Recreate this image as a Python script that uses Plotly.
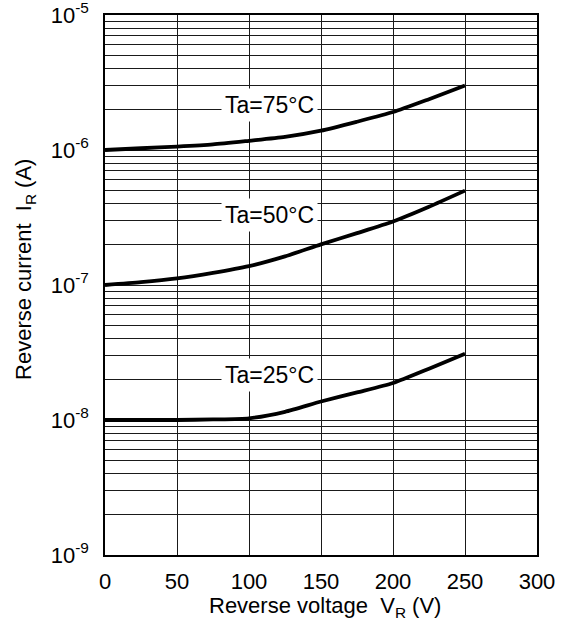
import math
import plotly.graph_objects as go

# ---- data ----
voltage_v = [0, 25, 50, 75, 100, 125, 150, 175, 200, 225, 250]
ir_75c = [1.0e-6, 1.03e-6, 1.06e-6, 1.10e-6, 1.17e-6, 1.25e-6, 1.39e-6, 1.62e-6, 1.91e-6, 2.38e-6, 3.0e-6]
ir_50c = [1.0e-7, 1.05e-7, 1.12e-7, 1.23e-7, 1.38e-7, 1.63e-7, 2.0e-7, 2.42e-7, 2.95e-7, 3.8e-7, 5.0e-7]
ir_25c = [1.0e-8, 1.0e-8, 1.0e-8, 1.01e-8, 1.03e-8, 1.15e-8, 1.37e-8, 1.6e-8, 1.88e-8, 2.4e-8, 3.1e-8]

series_names = ["Ta=75°C", "Ta=50°C", "Ta=25°C"]
label_v = [114, 114, 114]
label_i = [2.15e-6, 3.3e-7, 2.15e-8]

x_ticks = [0, 50, 100, 150, 200, 250, 300]
y_ticks = [1e-9, 1e-8, 1e-7, 1e-6, 1e-5]
y_ticktext = ["10<sup>-9</sup>", "10<sup>-8</sup>", "10<sup>-7</sup>", "10<sup>-6</sup>", "10<sup>-5</sup>"]
minor_mult = [2, 3, 4, 5, 6, 7, 8, 9]

x_title = "Reverse voltage  V<sub>R</sub> (V)"
y_title = "Reverse current  I<sub>R</sub> (A)"

FONT = "Liberation Sans, Arial, Helvetica, sans-serif"

fig = go.Figure()
for name, ys in zip(series_names, [ir_75c, ir_50c, ir_25c]):
    fig.add_trace(go.Scatter(x=voltage_v, y=ys, mode="lines", name=name,
                             line=dict(color="black", width=3.8, shape="spline", smoothing=0.6),
                             showlegend=False, hoverinfo="skip"))

for name, xv, yv in zip(series_names, label_v, label_i):
    fig.add_annotation(x=xv, y=math.log10(yv), yref="y", xref="x", text=name, showarrow=False,
                       font=dict(family=FONT, size=23, color="black"),
                       bgcolor="white", borderpad=3)

# axis titles
fig.add_annotation(xref="paper", yref="paper", x=0.51, y=-0.096, text=x_title, showarrow=False,
                   font=dict(family=FONT, size=22, color="black"), xanchor="center", yanchor="middle")
fig.add_annotation(xref="paper", yref="paper", x=-0.185, y=0.528, text=y_title, showarrow=False,
                   textangle=-90, font=dict(family=FONT, size=22, color="black"),
                   xanchor="center", yanchor="middle")

minor_vals = [m * d for d in y_ticks[:-1] for m in minor_mult]

fig.update_layout(
    width=566, height=628,
    margin=dict(l=105, r=29, t=15, b=73),
    paper_bgcolor="white", plot_bgcolor="white",
    font=dict(family=FONT, size=21, color="black"),
    xaxis=dict(range=[0, 300], tickvals=x_ticks, showgrid=True, gridcolor="#1a1a1a", gridwidth=1,
               showline=True, linecolor="black", linewidth=1.5, mirror=True,
               ticks="outside", ticklen=6, tickcolor="rgba(0,0,0,0)",
               tickfont=dict(size=22), zeroline=False, automargin=False,
               ticklabeloverflow="allow"),
    yaxis=dict(type="log", range=[-9, -5], tickvals=y_ticks, ticktext=y_ticktext,
               showgrid=True, gridcolor="#1a1a1a", gridwidth=1,
               minor=dict(tickvals=minor_vals, showgrid=True, gridcolor="#1a1a1a", gridwidth=1, ticks=""),
               showline=True, linecolor="black", linewidth=1.5, mirror=True,
               ticks="outside", ticklen=10, tickcolor="rgba(0,0,0,0)",
               tickfont=dict(size=22), zeroline=False, automargin=False,
               ticklabeloverflow="allow"),
)

fig.write_html("out.html", config={"displayModeBar": False},
               post_script="document.body.style.margin='0';")
